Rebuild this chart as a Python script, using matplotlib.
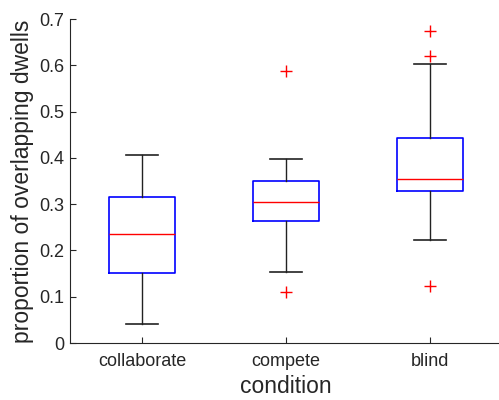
import matplotlib.pyplot as plt

# values
conditions = ['collaborate', 'compete', 'blind']
whisker_low = [0.042, 0.153, 0.222]
q1 = [0.152, 0.264, 0.329]
medians = [0.235, 0.304, 0.354]
q3 = [0.316, 0.351, 0.442]
whisker_high = [0.406, 0.397, 0.602]
outliers = [[], [0.588, 0.111], [0.674, 0.620, 0.123]]

plt.rcParams['font.family'] = ['Liberation Sans', 'DejaVu Sans']

fig = plt.figure(figsize=(4.99, 4.0), dpi=100)
ax = fig.add_axes([0.140, 0.1425, 0.866, 0.81])

stats = []
for i in range(len(conditions)):
    stats.append({
        'label': conditions[i],
        'whislo': whisker_low[i],
        'q1': q1[i],
        'med': medians[i],
        'q3': q3[i],
        'whishi': whisker_high[i],
        'fliers': outliers[i],
    })

ax.bxp(stats, positions=[1, 2, 3], widths=0.455, showfliers=True,
       boxprops=dict(color='#0000ff', linewidth=1.2),
       medianprops=dict(color='#ff0000', linewidth=1.0),
       whiskerprops=dict(color='#222222', linewidth=1.0, linestyle='-'),
       capprops=dict(color='#222222', linewidth=1.2),
       capwidths=0.22,
       flierprops=dict(marker='+', markeredgecolor='#ff0000', markersize=9,
                       markeredgewidth=1.0, linestyle='none'))

ax.set_xlim(0.5, 3.5)
ax.set_ylim(0, 0.7)
ax.set_yticks([0, 0.1, 0.2, 0.3, 0.4, 0.5, 0.6, 0.7])
ax.set_yticklabels(['0', '0.1', '0.2', '0.3', '0.4', '0.5', '0.6', '0.7'])
ax.set_xticks([1, 2, 3])
ax.set_xticklabels(conditions)

ax.spines['top'].set_visible(False)
ax.spines['right'].set_visible(False)
ax.spines['left'].set_color('#262626')
ax.spines['bottom'].set_color('#262626')
ax.tick_params(direction='in', length=4, colors='#262626', labelsize=13,
               labelcolor='#262626')
ax.tick_params(axis='x', pad=7)
ax.tick_params(axis='y', pad=4)

ax.set_xlabel('condition', fontsize=16.5, color='#262626', labelpad=4)
ax.set_ylabel('proportion of overlapping dwells', fontsize=16.5, color='#262626',
              labelpad=4)

plt.savefig('out.png', dpi=100)
plt.close()
